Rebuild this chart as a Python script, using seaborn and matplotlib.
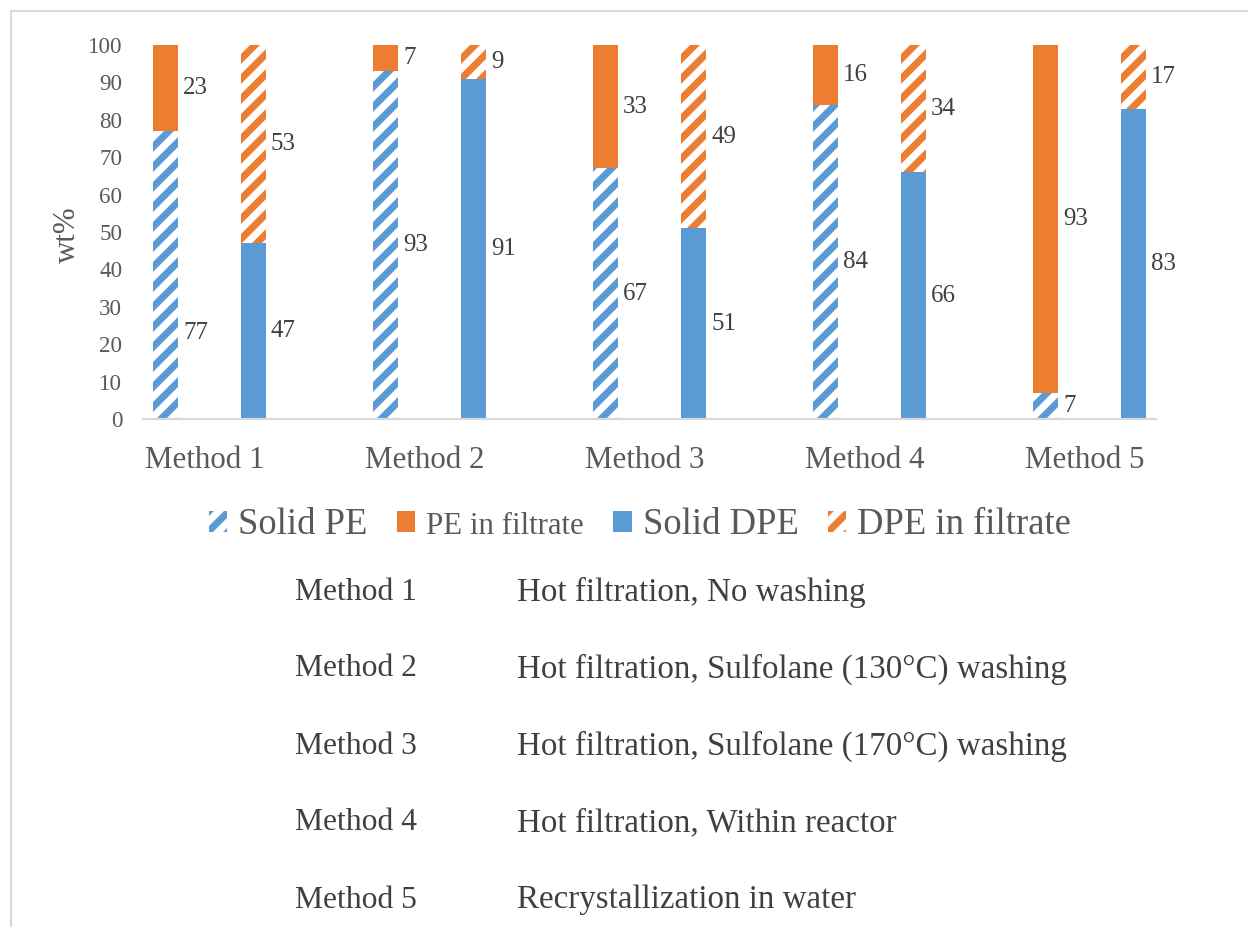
import matplotlib
matplotlib.use("Agg")
import matplotlib.pyplot as plt
import matplotlib.transforms as mtrans
import seaborn as sns
import pandas as pd
from matplotlib.patches import Patch
from matplotlib.lines import Line2D

# ---------------- data ----------------
methods = ["Method 1", "Method 2", "Method 3", "Method 4", "Method 5"]
solid_pe = [77, 93, 67, 84, 7]
pe_filtrate = [23, 7, 33, 16, 93]
solid_dpe = [47, 91, 51, 66, 83]
dpe_filtrate = [53, 9, 49, 34, 17]
yticks = list(range(0, 101, 10))
legend_labels = ["Solid PE", "PE in filtrate", "Solid DPE", "DPE in filtrate"]
descriptions = [
    "Hot filtration, No washing",
    "Hot filtration, Sulfolane (130°C) washing",
    "Hot filtration, Sulfolane (170°C) washing",
    "Hot filtration, Within reactor",
    "Recrystallization in water",
]

BLUE = "#5B9BD5"
ORANGE = "#ED7D31"
TICK_C = "#595959"
TEXT_C = "#404040"

sns.set_theme(style="white")
plt.rcParams["font.family"] = ["Liberation Serif", "DejaVu Serif"]
plt.rcParams["hatch.linewidth"] = 4.2

W, H = 1248, 927
DPI = 120
fig = plt.figure(figsize=(W / DPI, H / DPI), dpi=DPI)
ax = fig.add_axes([143 / W, 1 - 419 / H, (1156 - 143) / W, (419 - 45) / H])

pe_tot = [a + b for a, b in zip(solid_pe, pe_filtrate)]
dpe_tot = [a + b for a, b in zip(solid_dpe, dpe_filtrate)]

top = pd.DataFrame({"Method": methods * 2,
                    "Group": ["PE"] * 5 + ["DPE"] * 5,
                    "value": pe_tot + dpe_tot})
bottom = pd.DataFrame({"Method": methods * 2,
                       "Group": ["PE"] * 5 + ["DPE"] * 5,
                       "value": solid_pe + solid_dpe})

common = dict(x="Method", y="value", hue="Group", hue_order=["PE", "DPE"],
              order=methods, width=0.8, gap=0.715, legend=False,
              errorbar=None, saturation=1, ax=ax)
sns.barplot(data=top, palette=[ORANGE, "white"], **common)
sns.barplot(data=bottom, palette=["white", BLUE], **common)

# styles: (face, hatch-colour or None) per container
styles = [(ORANGE, None), ("white", ORANGE), ("white", BLUE), (BLUE, None)]
for cont, (face, hcol) in zip(ax.containers, styles):
    for p in cont.patches:
        p.set_facecolor(face)
        p.set_linewidth(0)
        if hcol is not None:
            p.set_edgecolor(hcol)
            p.set_hatch("//")
        else:
            p.set_edgecolor(face)

# data labels
label_nudge = {(0, 2): -15.5}   # Method 1 solid PE label sits lower in the original
series_vals = [pe_filtrate, dpe_filtrate, solid_pe, solid_dpe]
series_base = [solid_pe, solid_dpe, [0] * 5, [0] * 5]
for k, cont in enumerate(ax.containers):
    for i, p in enumerate(cont.patches):
        v = series_vals[k][i]
        yc = series_base[k][i] + v / 2 + label_nudge.get((i, k), 0)
        ax.annotate(str(v), xy=(p.get_x() + p.get_width(), yc),
                    xytext=(3, 0), textcoords="offset points",
                    ha="left", va="center", fontsize=15, color=TEXT_C)

ax.set_xlim(-0.302, 4.302)
ax.set_ylim(0, 100)
ax.set_yticks(yticks)
ax.set_yticklabels([str(t) for t in yticks])
for s in ["top", "right", "left"]:
    ax.spines[s].set_visible(False)
ax.spines["bottom"].set_color("#D9D9D9")
ax.spines["bottom"].set_linewidth(1.3)
ax.tick_params(axis="y", length=0, pad=12.5, labelsize=13.8, labelcolor=TICK_C)
ax.tick_params(axis="x", length=0, pad=16.5, labelsize=18.6, labelcolor=TICK_C)
shift = mtrans.ScaledTranslation(-5 / DPI, 0, fig.dpi_scale_trans)
for lab in ax.get_xticklabels():
    lab.set_transform(lab.get_transform() + shift)
ax.set_xlabel("")
ax.set_ylabel("wt%", fontsize=18.6, color=TICK_C)
ax.yaxis.set_label_coords((82 - 143) / 1013, (419 - 235) / 374)

# legend
handles = [
    Patch(facecolor="white", edgecolor=BLUE, hatch="//", linewidth=0),
    Patch(facecolor=ORANGE, edgecolor=ORANGE, linewidth=0),
    Patch(facecolor=BLUE, edgecolor=BLUE, linewidth=0),
    Patch(facecolor="white", edgecolor=ORANGE, hatch="//", linewidth=0),
]
leg = fig.legend(handles, legend_labels, loc="center",
                 bbox_to_anchor=(640 / W, 1 - 525 / H), ncol=4, frameon=False,
                 prop={"size": 22}, handlelength=0.5, handleheight=0.5,
                 handletextpad=0.3, columnspacing=0.8, borderpad=0,
                 labelcolor=TICK_C)
leg.get_texts()[1].set_fontsize(18.5)

# method table
for i, (m, d) in enumerate(zip(methods, descriptions)):
    y = 1 - (592 + 77 * i) / H
    fig.text(295 / W, y, m, ha="left", va="center", fontsize=19, color=TEXT_C)
    fig.text(517 / W, y, d, ha="left", va="center", fontsize=19.8, color=TEXT_C)

# outer frame (only left and top edges visible)
fx, fy = 10.5 / W, 1 - 10.5 / H
fig.add_artist(Line2D([fx, fx], [0, fy], transform=fig.transFigure,
                      color="#D9D9D9", lw=1.3))
fig.add_artist(Line2D([fx, 1], [fy, fy], transform=fig.transFigure,
                      color="#D9D9D9", lw=1.3))

fig.savefig("out.png", dpi=DPI)
